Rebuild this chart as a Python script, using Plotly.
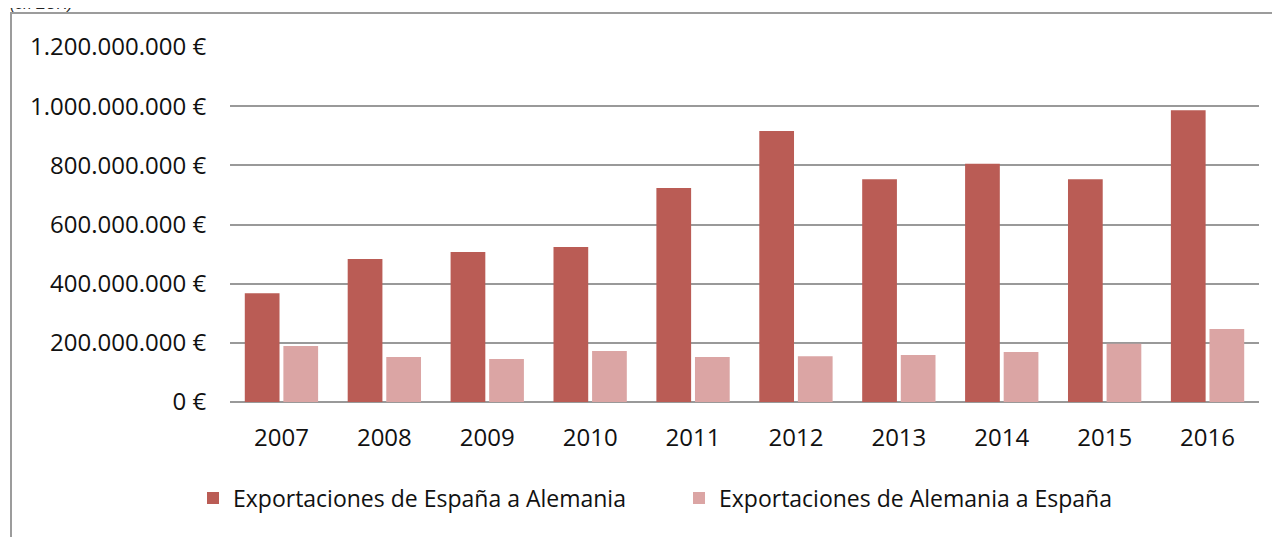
import plotly.graph_objects as go

years = ["2007", "2008", "2009", "2010", "2011", "2012", "2013", "2014", "2015", "2016"]
esp_to_ale = [368e6, 483e6, 507e6, 524e6, 723e6, 916e6, 753e6, 805e6, 753e6, 986e6]
ale_to_esp = [189e6, 152e6, 145e6, 172e6, 152e6, 155e6, 159e6, 169e6, 197e6, 247e6]
y_ticks = [0, 200e6, 400e6, 600e6, 800e6, 1000e6, 1200e6]
y_tick_labels = ["0 €", "200.000.000 €", "400.000.000 €", "600.000.000 €",
                 "800.000.000 €", "1.000.000.000 €", "1.200.000.000 €"]
name_a = "Exportaciones de España a Alemania"
name_b = "Exportaciones de Alemania a España"

# page has an 8px body margin: figure occupies page px 8..1280 / 8..537
OFF = 8
W, H = 1280 - OFF, 537 - OFF
ML, MT = 230 - OFF, 47 - OFF
PLOT_R, PLOT_B = 1259 - OFF, 402 - OFF
MR, MB = W - PLOT_R, H - PLOT_B
PW, PH = PLOT_R - ML, PLOT_B - MT

def px_x(page_px):
    return (page_px - OFF - ML) / PW

def px_y(page_py):
    return (PLOT_B - (page_py - OFF)) / PH

FONT = "Open Sans, Liberation Sans, sans-serif"

fig = go.Figure()
fig.add_trace(go.Bar(x=years, y=esp_to_ale, name=name_a, marker=dict(color="#BA5C55", line=dict(width=0))))
fig.add_trace(go.Bar(x=years, y=ale_to_esp, name=name_b, marker=dict(color="#DBA5A4", line=dict(width=0))))

fig.update_layout(
    width=W, height=H,
    margin=dict(l=ML, r=MR, t=MT, b=MB, pad=0),
    paper_bgcolor="white", plot_bgcolor="white",
    barmode="group", bargap=0.25, bargroupgap=0.1,
    font=dict(family=FONT, size=24, color="#111111"),
    showlegend=True,
    legend=dict(
        orientation="h", x=px_x(193), xanchor="left",
        y=px_y(498), yanchor="middle",
        font=dict(family=FONT, size=23, color="#111111"),
        entrywidth=441, entrywidthmode="pixels",
        bgcolor="rgba(0,0,0,0)", traceorder="normal",
    ),
    xaxis=dict(
        showgrid=False, showline=False, zeroline=False,
        ticks="outside", ticklen=14, tickcolor="rgba(0,0,0,0)",
        tickfont=dict(family=FONT, size=24, color="#111111"),
    ),
    yaxis=dict(
        range=[0, 1.2e9], tickmode="array", tickvals=y_ticks, ticktext=y_tick_labels,
        showgrid=True, gridcolor="#999999", gridwidth=2,
        zeroline=True, zerolinecolor="#999999", zerolinewidth=2,
        showline=False,
        ticks="outside", ticklen=18, tickcolor="rgba(0,0,0,0)",
        tickfont=dict(family=FONT, size=24, color="#111111"),
    ),
    shapes=[
        dict(type="rect", xref="paper", yref="paper",
             x0=px_x(11), x1=px_x(1295), y0=px_y(560), y1=px_y(13),
             line=dict(color="#9C9C9C", width=2), fillcolor="rgba(0,0,0,0)", layer="below"),
    ],
    annotations=[
        dict(text="<i>(en EUR)</i>", xref="paper", yref="paper", x=px_x(9), y=px_y(13),
             xanchor="left", yanchor="bottom", showarrow=False, borderpad=0,
             font=dict(family="Liberation Sans, sans-serif", size=15, color="#222222")),
    ],
)

fig.write_html("out.html")
